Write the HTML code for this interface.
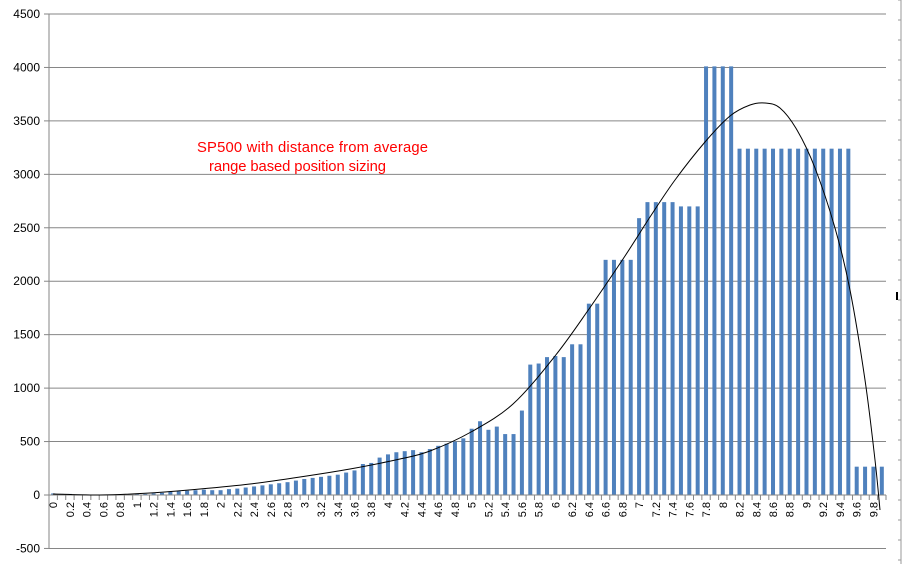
<!DOCTYPE html>
<html><head><meta charset="utf-8"><style>
html,body{margin:0;padding:0;background:#fff;}
svg{display:block;font-family:"Liberation Sans",sans-serif;}
</style></head><body>
<svg id="c" width="903" height="564" xmlns="http://www.w3.org/2000/svg"></svg>
<script>
var s=document.getElementById('c'),NS='http://www.w3.org/2000/svg';
function el(t,a,txt){var e=document.createElementNS(NS,t);for(var k in a)e.setAttribute(k,a[k]);if(txt!=null)e.textContent=txt;s.appendChild(e);return e;}
var L=49,R=886,Y0=495,sc=481/4500,cw=(R-L)/100;
function y(v){return Y0-v*sc;}
for(var v=-500;v<=4500;v+=500){
 if(v!==0) el('line',{x1:L,x2:R,y1:y(v),y2:y(v),stroke:'#868686','stroke-width':1});
 el('text',{x:40,y:y(v)+4,'text-anchor':'end','font-size':12,fill:'#000'},String(v));
 el('line',{x1:L-5,x2:L,y1:y(v),y2:y(v),stroke:'#868686'});
}
el('line',{x1:L,x2:L,y1:y(4500),y2:y(-500),stroke:'#868686'});
el('line',{x1:901,x2:901,y1:0,y2:564,stroke:'#9a9a9a'});
for(var t=0;t<564;t+=20)el('line',{x1:898,x2:901,y1:t,y2:t,stroke:'#9a9a9a'});
el('line',{x1:897,x2:897,y1:292,y2:300,stroke:'#000','stroke-width':2});
var d=[15,10,10,5,3,3,3,3,5,8,
10,10,15,20,30,35,40,45,50,45,
45,55,60,70,80,90,100,110,120,135,
150,160,170,180,190,210,230,290,300,350,
380,400,410,420,400,430,460,480,500,530,
620,690,610,640,570,570,790,1220,1230,1290,
1300,1290,1410,1410,1790,1790,2200,2200,2200,2200,
2590,2740,2740,2740,2740,2700,2700,2700,4010,4010,
4010,4010,3240,3240,3240,3240,3240,3240,3240,3240,
3240,3240,3240,3240,3240,3240,265,265,265,265];
for(var i=0;i<100;i++){
 var cx=L+(i+0.5)*cw;
 el('rect',{x:cx-2,y:y(d[i]),width:4,height:Y0-y(d[i]),fill:'#4f81bd'});
 el('line',{x1:L+i*cw,x2:L+i*cw,y1:Y0,y2:Y0+5,stroke:'#868686'});
 if(i%2===0){
  el('text',{x:0,y:0,'font-size':11,fill:'#000','text-anchor':'end',transform:'translate('+(cx+4)+','+(Y0+7)+') rotate(-90)'},String(i/10));
 }
}
el('line',{x1:R,x2:R,y1:Y0,y2:Y0+5,stroke:'#868686'});
el('line',{x1:L,x2:R,y1:Y0,y2:Y0,stroke:'#868686'});
var p=[[53,494],[100,495],[150,493],[200,489],[250,484],[300,477],[350,469],[400,459],[430,451],[471,432],[513,404],[555,356],[589,309],[625,256],[650,217],[675,180],[705,142],[730,116],[750,105],[765,103],[780,108],[797,130],[815,168],[835,228],[850,290],[865,380],[875,460],[880,510]];
var dd='M'+p[0][0]+','+p[0][1];
for(var i=0;i<p.length-1;i++){
 var p0=p[Math.max(0,i-1)],p1=p[i],p2=p[i+1],p3=p[Math.min(p.length-1,i+2)];
 var c1x=p1[0]+(p2[0]-p0[0])/6,c1y=p1[1]+(p2[1]-p0[1])/6,c2x=p2[0]-(p3[0]-p1[0])/6,c2y=p2[1]-(p3[1]-p1[1])/6;
 dd+=' C'+c1x+','+c1y+' '+c2x+','+c2y+' '+p2[0]+','+p2[1];
}
el('path',{d:dd,fill:'none',stroke:'#000','stroke-width':1});
el('text',{x:197,y:152,'font-size':14.8,fill:'#ff0000',textLength:231},'SP500 with distance from average');
el('text',{x:209,y:171,'font-size':14.8,fill:'#ff0000',textLength:177},'range based position sizing');
</script>
</body></html>
